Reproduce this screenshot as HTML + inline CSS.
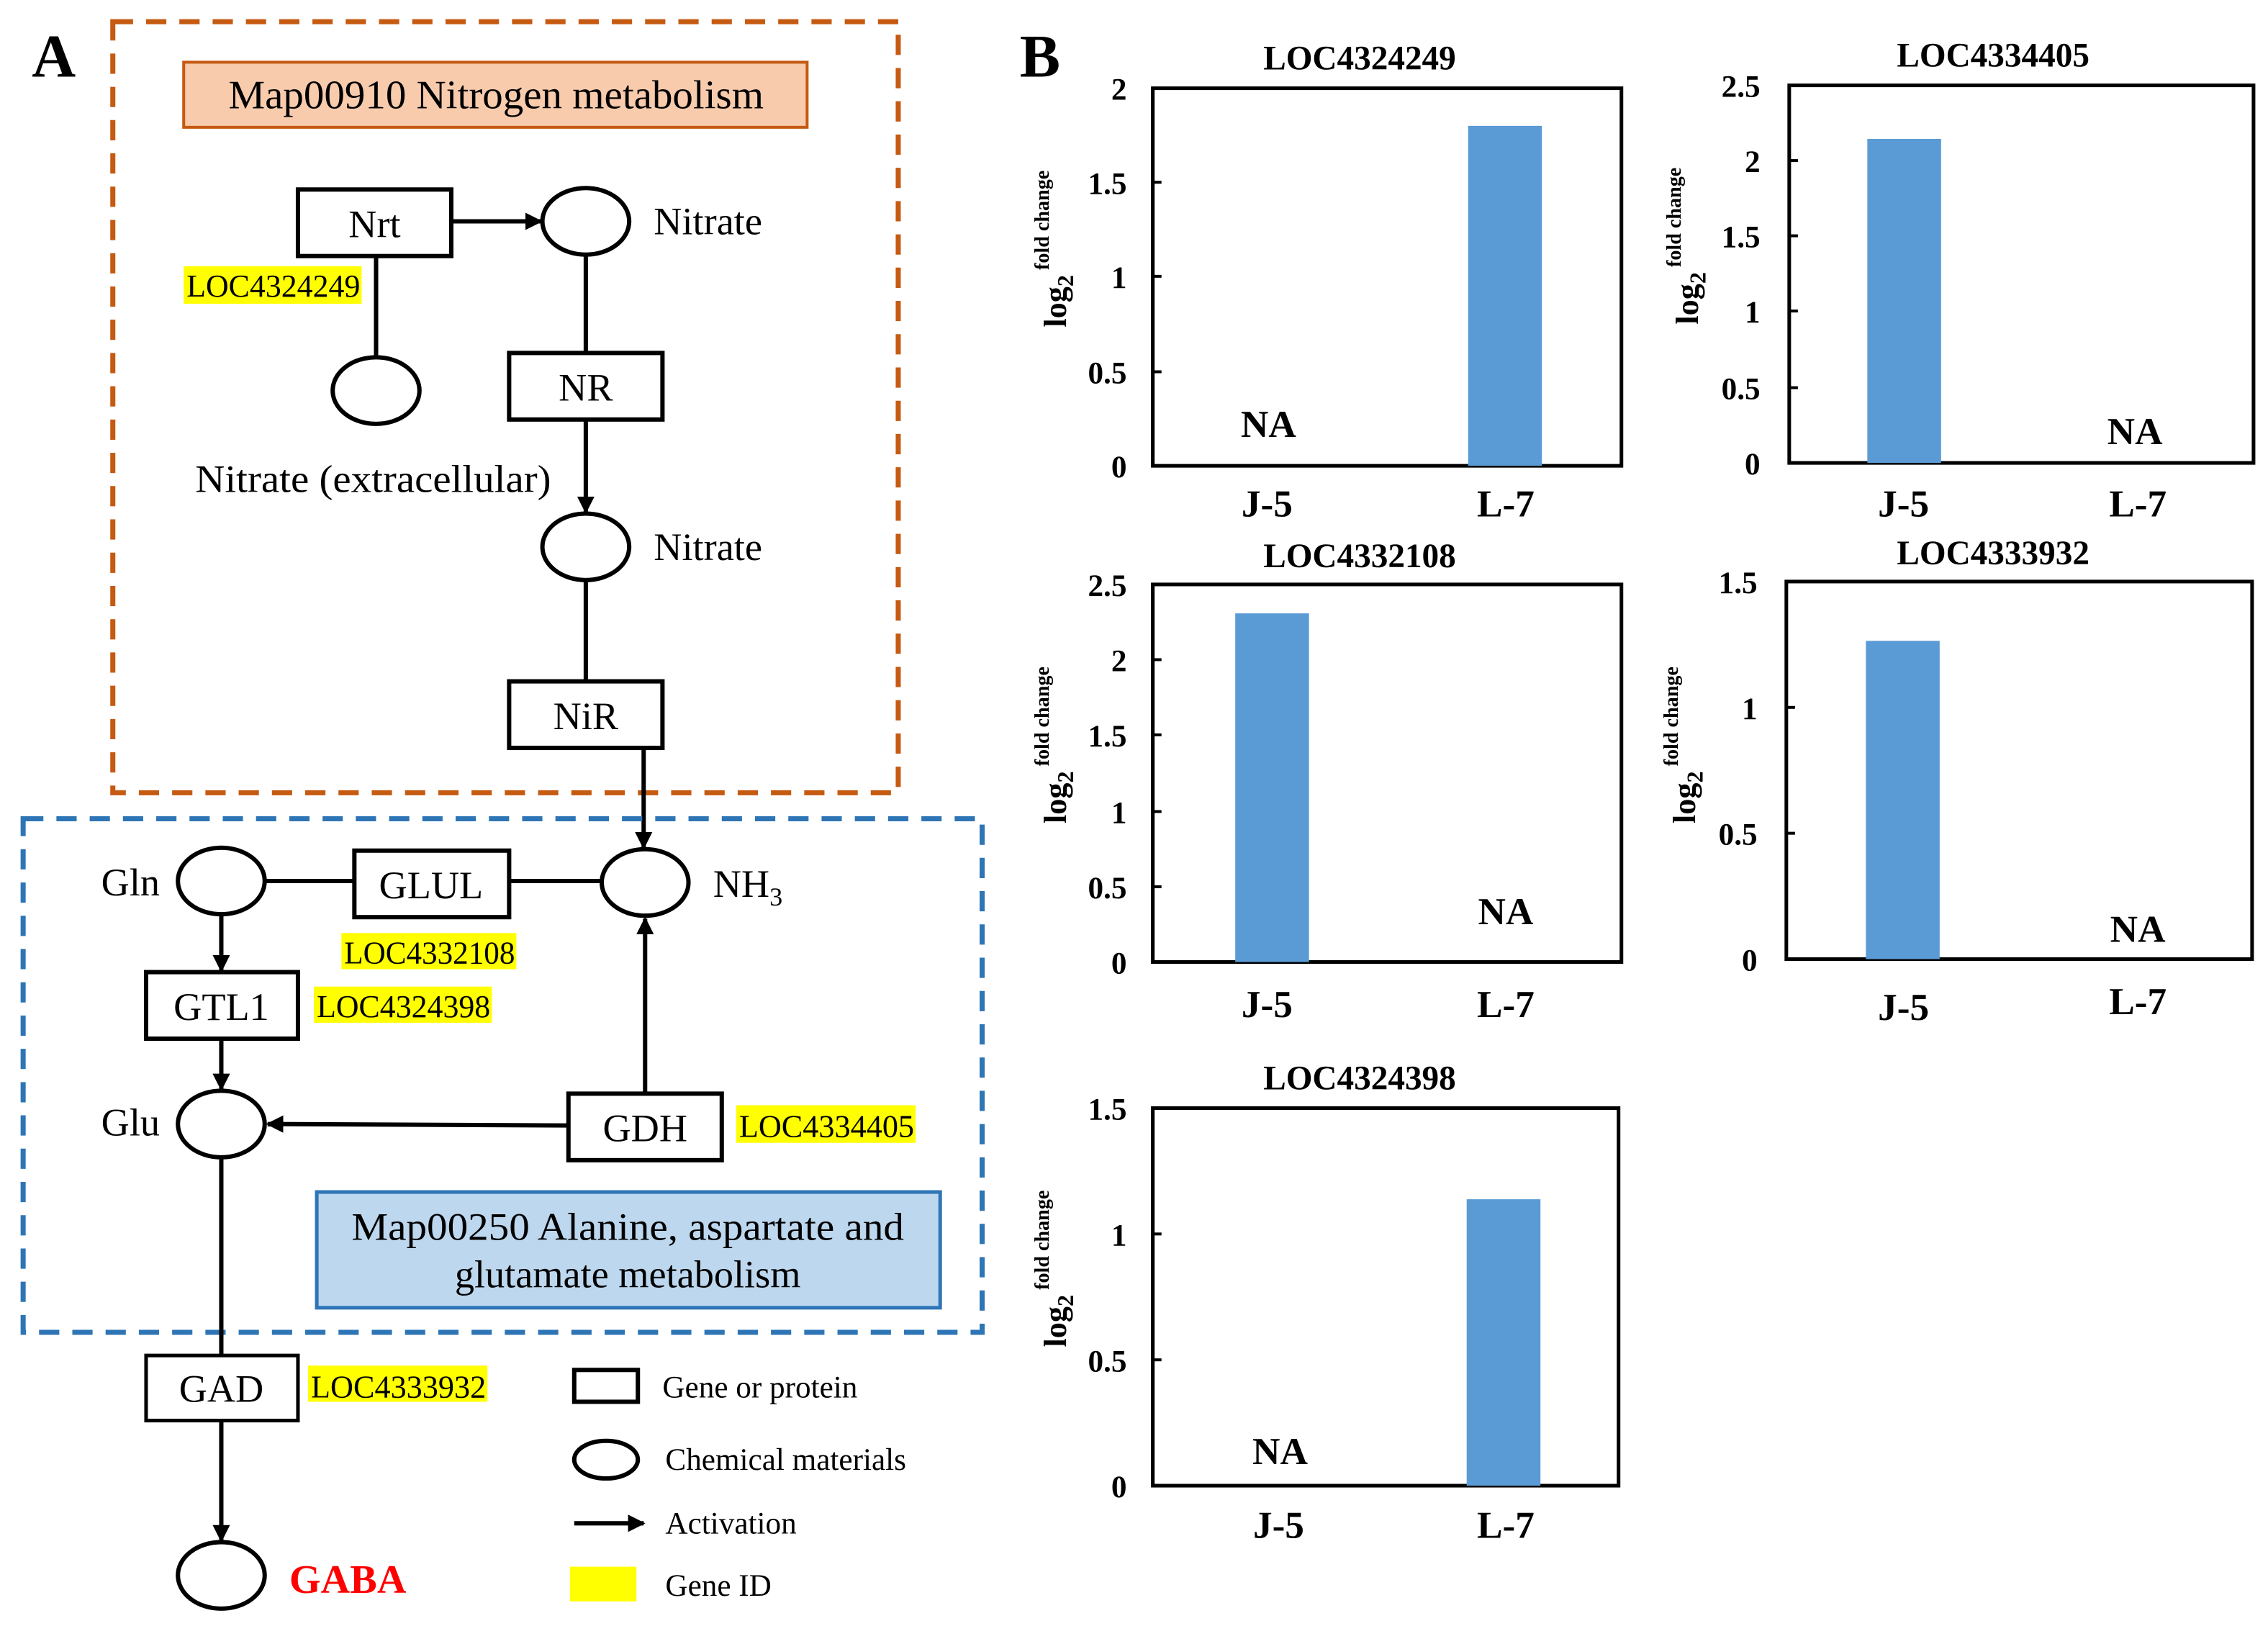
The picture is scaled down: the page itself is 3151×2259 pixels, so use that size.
<!DOCTYPE html>
<html><head><meta charset="utf-8">
<style>
html,body{margin:0;padding:0;background:#fff;}
svg{display:block;}
text{font-family:"Liberation Serif",serif;}
</style></head>
<body>
<svg width="3151" height="2259" viewBox="0 0 1568 1124" preserveAspectRatio="none" xmlns="http://www.w3.org/2000/svg">
<defs>
<marker id="ar" viewBox="0 0 10 10" refX="9" refY="5" markerWidth="4" markerHeight="4" orient="auto" markerUnits="strokeWidth">
<path d="M0,0 L10,5 L0,10 z" fill="#000"/></marker>
</defs>
<rect width="1568" height="1124" fill="#fff"/>

<!-- Panel A -->
<text x="22" y="53" font-size="42" font-weight="bold">A</text>
<rect x="78" y="15" width="543" height="533" fill="none" stroke="#c55a11" stroke-width="3.5" stroke-dasharray="14,9"/>
<rect x="127" y="43" width="431" height="45" fill="#f8cbad" stroke="#c55a11" stroke-width="2"/>
<text x="343" y="75" font-size="28" text-anchor="middle" textLength="370" lengthAdjust="spacingAndGlyphs">Map00910 Nitrogen metabolism</text>

<g stroke="#000" stroke-width="3" fill="none">
<rect x="206" y="131" width="106" height="46" fill="#fff"/>
<line x1="312" y1="153" x2="374" y2="153" marker-end="url(#ar)"/>
<ellipse cx="405" cy="153" rx="30" ry="23" fill="#fff"/>
<line x1="260" y1="177" x2="260" y2="247"/>
<ellipse cx="260" cy="270" rx="30" ry="23" fill="#fff"/>
<line x1="405" y1="176" x2="405" y2="244"/>
<rect x="352" y="244" width="106" height="46" fill="#fff"/>
<line x1="405" y1="290" x2="405" y2="354" marker-end="url(#ar)"/>
<ellipse cx="405" cy="378" rx="30" ry="23" fill="#fff"/>
<line x1="405" y1="401" x2="405" y2="471"/>
<rect x="352" y="471" width="106" height="46" fill="#fff"/>
<line x1="445" y1="517" x2="445" y2="586" marker-end="url(#ar)"/>
</g>
<text x="259" y="164" font-size="27" text-anchor="middle">Nrt</text>
<text x="452" y="162" font-size="27">Nitrate</text>
<rect x="127" y="184" width="123" height="26" fill="#ffff00"/>
<text x="129" y="205" font-size="22" textLength="120" lengthAdjust="spacingAndGlyphs">LOC4324249</text>
<text x="135" y="340" font-size="27" textLength="246" lengthAdjust="spacingAndGlyphs">Nitrate (extracellular)</text>
<text x="405" y="277" font-size="27" text-anchor="middle">NR</text>
<text x="452" y="387" font-size="27">Nitrate</text>
<text x="405" y="504" font-size="27" text-anchor="middle">NiR</text>

<rect x="16" y="566" width="663" height="355" fill="none" stroke="#2e75b6" stroke-width="3.5" stroke-dasharray="14,9"/>
<g stroke="#000" stroke-width="3" fill="none">
<ellipse cx="446" cy="610" rx="30" ry="23" fill="#fff"/>
<ellipse cx="153" cy="609" rx="30" ry="23" fill="#fff"/>
<line x1="183" y1="609" x2="245" y2="609"/>
<rect x="245" y="588" width="107" height="46" fill="#fff"/>
<line x1="352" y1="609" x2="416" y2="609"/>
<line x1="153" y1="632" x2="153" y2="671" marker-end="url(#ar)"/>
<rect x="101" y="672" width="105" height="46" fill="#fff"/>
<line x1="153" y1="718" x2="153" y2="753" marker-end="url(#ar)"/>
<ellipse cx="153" cy="777" rx="30" ry="23" fill="#fff"/>
<rect x="393" y="756" width="106" height="46" fill="#fff"/>
<line x1="393" y1="778" x2="185" y2="777" marker-end="url(#ar)"/>
<line x1="446" y1="756" x2="446" y2="635" marker-end="url(#ar)"/>
<line x1="153" y1="800" x2="153" y2="937"/>
<rect x="101" y="937" width="105" height="45" fill="#fff" stroke-width="2.5"/>
<line x1="153" y1="982" x2="153" y2="1065" marker-end="url(#ar)"/>
<ellipse cx="153" cy="1089" rx="30" ry="23" fill="#fff"/>
</g>
<text x="70" y="619" font-size="27">Gln</text>
<text x="298" y="621" font-size="27" text-anchor="middle">GLUL</text>
<text x="493" y="620" font-size="27">NH<tspan font-size="18" dy="6">3</tspan></text>
<rect x="236" y="645" width="121" height="25" fill="#ffff00"/>
<text x="238" y="666" font-size="22" textLength="118" lengthAdjust="spacingAndGlyphs">LOC4332108</text>
<text x="153" y="705" font-size="27" text-anchor="middle">GTL1</text>
<rect x="217" y="682" width="123" height="25" fill="#ffff00"/>
<text x="219" y="703" font-size="22" textLength="120" lengthAdjust="spacingAndGlyphs">LOC4324398</text>
<text x="70" y="785" font-size="27">Glu</text>
<text x="446" y="789" font-size="27" text-anchor="middle">GDH</text>
<rect x="509" y="764" width="124" height="26" fill="#ffff00"/>
<text x="511" y="786" font-size="22" textLength="121" lengthAdjust="spacingAndGlyphs">LOC4334405</text>
<rect x="219" y="824" width="431" height="80" fill="#bdd7ee" stroke="#2e75b6" stroke-width="2.5"/>
<text x="434" y="857" font-size="27" text-anchor="middle" textLength="382" lengthAdjust="spacingAndGlyphs">Map00250 Alanine, aspartate and</text>
<text x="434" y="890" font-size="27" text-anchor="middle">glutamate metabolism</text>
<text x="153" y="969" font-size="27" text-anchor="middle">GAD</text>
<rect x="213" y="944" width="124" height="25" fill="#ffff00"/>
<text x="215" y="966" font-size="22" textLength="121" lengthAdjust="spacingAndGlyphs">LOC4333932</text>
<text x="200" y="1101" font-size="28" font-weight="bold" fill="#ff0000">GABA</text>

<!-- legend -->
<rect x="397" y="947" width="44" height="22" fill="none" stroke="#000" stroke-width="3"/>
<text x="458" y="966" font-size="21.5">Gene or protein</text>
<ellipse cx="419" cy="1009" rx="22" ry="13" fill="none" stroke="#000" stroke-width="3"/>
<text x="460" y="1016" font-size="21.5">Chemical materials</text>
<line x1="397" y1="1053" x2="445" y2="1053" stroke="#000" stroke-width="3" marker-end="url(#ar)"/>
<text x="460" y="1060" font-size="21.5">Activation</text>
<rect x="394" y="1083" width="46" height="24" fill="#ffff00"/>
<text x="460" y="1103" font-size="21.5">Gene ID</text>

<!-- Panel B -->
<text x="705" y="53" font-size="42" font-weight="bold">B</text>
<g font-weight="bold">
<!-- chart 1 -->
<text x="940" y="48" font-size="23.5" text-anchor="middle">LOC4324249</text>
<rect x="797" y="61" width="324" height="261" fill="none" stroke="#000" stroke-width="2.5"/>
<rect x="1015" y="87" width="51" height="235" fill="#5b9bd5"/>
<g font-size="21.5" text-anchor="end"><text x="779" y="69">2</text><text x="779" y="134">1.5</text><text x="779" y="199">1</text><text x="779" y="265">0.5</text><text x="779" y="330">0</text></g>
<g stroke="#000" stroke-width="2"><line x1="797" y1="126" x2="803" y2="126"/><line x1="797" y1="191" x2="803" y2="191"/><line x1="797" y1="257" x2="803" y2="257"/></g>
<text x="877" y="302" font-size="26.5" text-anchor="middle">NA</text>
<text x="876" y="357" font-size="26.5" text-anchor="middle">J-5</text>
<text x="1041" y="357" font-size="26.5" text-anchor="middle">L-7</text>
<text transform="translate(737,172) rotate(-90)" font-size="22" text-anchor="middle">log<tspan font-size="16" dy="5">2</tspan><tspan font-size="14" dy="-17"> fold change</tspan></text>

<!-- chart 2 -->
<text x="1378" y="46" font-size="23.5" text-anchor="middle">LOC4334405</text>
<rect x="1237" y="59" width="321" height="261" fill="none" stroke="#000" stroke-width="2.5"/>
<rect x="1291" y="96" width="51" height="224" fill="#5b9bd5"/>
<g font-size="21.5" text-anchor="end"><text x="1217" y="67">2.5</text><text x="1217" y="119">2</text><text x="1217" y="171">1.5</text><text x="1217" y="223">1</text><text x="1217" y="276">0.5</text><text x="1217" y="328">0</text></g>
<g stroke="#000" stroke-width="2"><line x1="1237" y1="111" x2="1243" y2="111"/><line x1="1237" y1="163" x2="1243" y2="163"/><line x1="1237" y1="215" x2="1243" y2="215"/><line x1="1237" y1="268" x2="1243" y2="268"/></g>
<text x="1476" y="307" font-size="26.5" text-anchor="middle">NA</text>
<text x="1316" y="357" font-size="26.5" text-anchor="middle">J-5</text>
<text x="1478" y="357" font-size="26.5" text-anchor="middle">L-7</text>
<text transform="translate(1174,170) rotate(-90)" font-size="22" text-anchor="middle">log<tspan font-size="16" dy="5">2</tspan><tspan font-size="14" dy="-17"> fold change</tspan></text>

<!-- chart 3 -->
<text x="940" y="392" font-size="23.5" text-anchor="middle">LOC4332108</text>
<rect x="797" y="404" width="324" height="261" fill="none" stroke="#000" stroke-width="2.5"/>
<rect x="854" y="424" width="51" height="241" fill="#5b9bd5"/>
<g font-size="21.5" text-anchor="end"><text x="779" y="412">2.5</text><text x="779" y="464">2</text><text x="779" y="516">1.5</text><text x="779" y="569">1</text><text x="779" y="621">0.5</text><text x="779" y="673">0</text></g>
<g stroke="#000" stroke-width="2"><line x1="797" y1="456" x2="803" y2="456"/><line x1="797" y1="508" x2="803" y2="508"/><line x1="797" y1="561" x2="803" y2="561"/><line x1="797" y1="613" x2="803" y2="613"/></g>
<text x="1041" y="639" font-size="26.5" text-anchor="middle">NA</text>
<text x="876" y="703" font-size="26.5" text-anchor="middle">J-5</text>
<text x="1041" y="703" font-size="26.5" text-anchor="middle">L-7</text>
<text transform="translate(737,515) rotate(-90)" font-size="22" text-anchor="middle">log<tspan font-size="16" dy="5">2</tspan><tspan font-size="14" dy="-17"> fold change</tspan></text>

<!-- chart 4 -->
<text x="1378" y="390" font-size="23.5" text-anchor="middle">LOC4333932</text>
<rect x="1235" y="402" width="322" height="261" fill="none" stroke="#000" stroke-width="2.5"/>
<rect x="1290" y="443" width="51" height="220" fill="#5b9bd5"/>
<g font-size="21.5" text-anchor="end"><text x="1215" y="410">1.5</text><text x="1215" y="497">1</text><text x="1215" y="584">0.5</text><text x="1215" y="671">0</text></g>
<g stroke="#000" stroke-width="2"><line x1="1235" y1="489" x2="1241" y2="489"/><line x1="1235" y1="576" x2="1241" y2="576"/></g>
<text x="1478" y="651" font-size="26.5" text-anchor="middle">NA</text>
<text x="1316" y="705" font-size="26.5" text-anchor="middle">J-5</text>
<text x="1478" y="701" font-size="26.5" text-anchor="middle">L-7</text>
<text transform="translate(1172,515) rotate(-90)" font-size="22" text-anchor="middle">log<tspan font-size="16" dy="5">2</tspan><tspan font-size="14" dy="-17"> fold change</tspan></text>

<!-- chart 5 -->
<text x="940" y="753" font-size="23.5" text-anchor="middle">LOC4324398</text>
<rect x="797" y="766" width="322" height="261" fill="none" stroke="#000" stroke-width="2.5"/>
<rect x="1014" y="829" width="51" height="198" fill="#5b9bd5"/>
<g font-size="21.5" text-anchor="end"><text x="779" y="774">1.5</text><text x="779" y="861">1</text><text x="779" y="948">0.5</text><text x="779" y="1035">0</text></g>
<g stroke="#000" stroke-width="2"><line x1="797" y1="853" x2="803" y2="853"/><line x1="797" y1="940" x2="803" y2="940"/></g>
<text x="885" y="1012" font-size="26.5" text-anchor="middle">NA</text>
<text x="884" y="1063" font-size="26.5" text-anchor="middle">J-5</text>
<text x="1041" y="1063" font-size="26.5" text-anchor="middle">L-7</text>
<text transform="translate(737,877) rotate(-90)" font-size="22" text-anchor="middle">log<tspan font-size="16" dy="5">2</tspan><tspan font-size="14" dy="-17"> fold change</tspan></text>
</g>
</svg>
</body></html>
